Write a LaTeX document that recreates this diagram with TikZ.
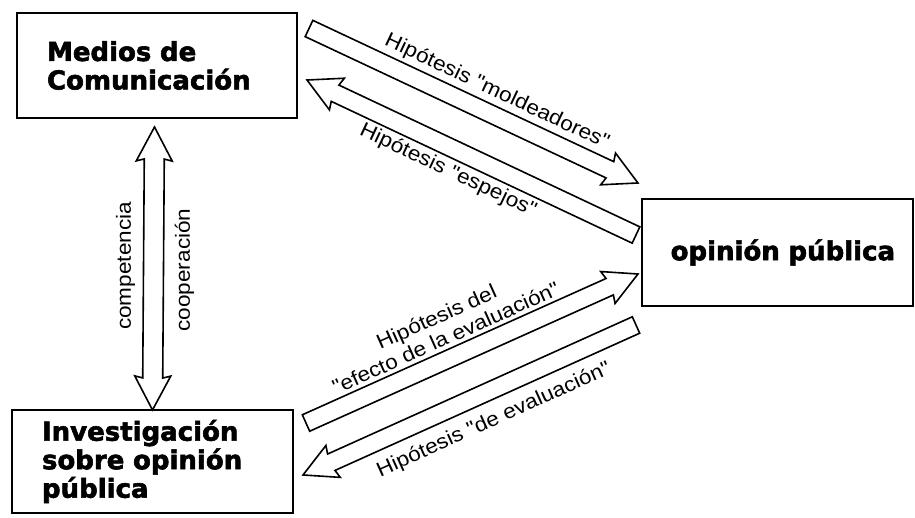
\documentclass[tikz,border=0pt]{standalone}
\usepackage{fontspec}
\usetikzlibrary{calc}
\newfontfamily\boxfont[BoldFeatures={FakeBold=2.2}]{DejaVu Sans}
\newfontfamily\lblfont[FakeStretch=1.1]{Liberation Sans}
\tikzset{
  box/.style={draw, line width=2.4pt, inner xsep=30pt, inner ysep=0pt,
    font=\boxfont\bfseries\fontsize{26}{28.5}\selectfont},
  lbl/.style={inner sep=0pt, font=\lblfont\fontsize{20.5}{23}\selectfont},
  arr/.style={draw, line width=1.6pt, line join=miter, fill=white},
}
\newcommand\getdir[2]{%
  \path let \p1=($(#2)-(#1)$) in \pgfextra{%
    \pgfmathsetmacro\tmpang{atan2(\y1,\x1)}\global\let\haang\tmpang
    \pgfmathsetmacro\tmplen{veclen(\x1,\y1)}\global\let\halen\tmplen};}
\newcommand\hollowarrow[2]{%
  \getdir{#1}{#2}%
  \draw[arr, shift={(#1)}, rotate=\haang] (0,-9) -- ({\halen-31},-9) -- ({\halen-33},-17.5)
    -- (\halen,0) -- ({\halen-33},17.5) -- ({\halen-31},9) -- (0,9) -- cycle;}
\newcommand\hollowdarrow[2]{%
  \getdir{#1}{#2}%
  \draw[arr, shift={(#1)}, rotate=\haang] (0,0) -- (34,18) -- (32,10) -- ({\halen-32},10)
    -- ({\halen-34},18) -- (\halen,0) -- ({\halen-34},-18) -- ({\halen-32},-10)
    -- (32,-10) -- (34,-18) -- cycle;}
\begin{document}
\begin{tikzpicture}[x=1pt,y=1pt]
\useasboundingbox[fill=white] (0,0) rectangle (915,517);
% boxes
\node[box, text width=220pt, align=left, minimum height=105pt] (medios) at (157,451.5) {Medios de\\Comunicación};
\node[box, text width=221pt, align=left, minimum height=103pt] (inv) at (152.5,55.5) {Investigación\\sobre opinión\\pública};
\node[box, text width=235pt, inner xsep=18pt, align=right, minimum height=107pt] (op) at (777.5,264.5) {opinión pública};
% arrow end points
\coordinate (At) at (309,488.5); \coordinate (Ah) at (638,334);
\coordinate (Bt) at (636,282);   \coordinate (Bh) at (307,437);
\coordinate (Ct) at (306,94);    \coordinate (Ch) at (638,243);
\coordinate (Dt) at (636,192);   \coordinate (Dh) at (303,42);
\coordinate (Vt) at (154.5,390); \coordinate (Vb) at (152.5,107);
\hollowarrow{At}{Ah}
\hollowarrow{Bt}{Bh}
\hollowarrow{Ct}{Ch}
\hollowarrow{Dt}{Dh}
\hollowdarrow{Vb}{Vt}
% labels
\node[lbl, rotate=-25.2] (lA) at (497,425) {Hipótesis "moldeadores"};
\node[lbl, rotate=-25.2] (lB) at (448,346) {Hipótesis "espejos"};
\node[lbl, rotate=24.2, align=center] (lC) at (441,190) {Hipótesis del\\"efecto de la evaluación"};
\node[lbl, rotate=24.2] (lD) at (494,97) {Hipótesis "de evaluación"};
\node[lbl, rotate=90] (lcomp) at (125.5,251) {competencia};
\node[lbl, rotate=90] (lcoop) at (184.5,247) {cooperación};
\end{tikzpicture}
\end{document}
